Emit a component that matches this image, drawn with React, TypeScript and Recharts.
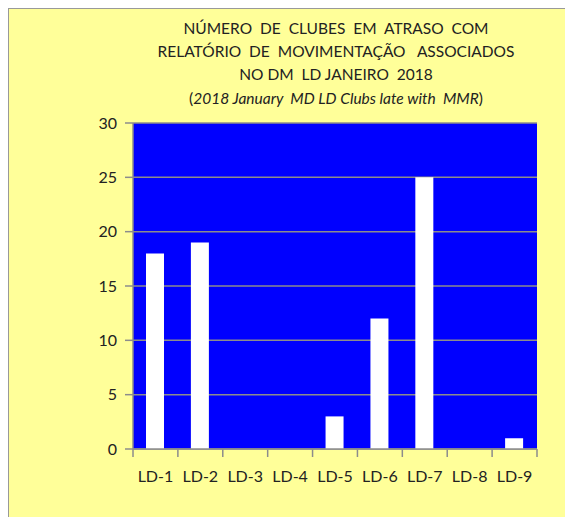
import { BarChart, Bar, XAxis, YAxis, CartesianGrid } from "recharts";

const districts = ["LD-1", "LD-2", "LD-3", "LD-4", "LD-5", "LD-6", "LD-7", "LD-8", "LD-9"];
const lateClubs = [18, 19, 0, 0, 3, 12, 25, 0, 1];
const yTicks = [0, 5, 10, 15, 20, 25, 30];

const data = districts.map((name, i) => ({ name, value: lateClubs[i] }));

const BG = "#FFFF99";
const PLOT = "#0000FF";
const GRID = "#8C8C8C";
const FONT = "Lato, 'Liberation Sans', sans-serif";

const PLOT_W = 404;
const BAND = PLOT_W / districts.length;

function CategoryTick(props: any) {
  const { x, y, payload, index } = props;
  const left = x - BAND / 2;
  const right = x + BAND / 2;
  return (
    <g>
      <line x1={left} y1={y - 8} x2={left} y2={y} stroke={GRID} strokeWidth={1.5} />
      {index === districts.length - 1 && (
        <line x1={right} y1={y - 8} x2={right} y2={y} stroke={GRID} strokeWidth={1.5} />
      )}
      <text x={x} y={y + 25} textAnchor="middle" fontSize={16} fill="#222" fontFamily={FONT}>
        {payload.value}
      </text>
    </g>
  );
}

export default function App() {
  return (
    <div
      style={{
        position: "relative",
        width: 564,
        height: 509,
        background: BG,
        borderTop: "1px solid #999",
        borderLeft: "1px solid #999",
        fontFamily: FONT,
        color: "#222",
        overflow: "hidden",
      }}
    >
      <div
        style={{
          position: "absolute",
          left: 27,
          top: 8,
          width: 600,
          textAlign: "center",
          fontSize: 15.5,
          lineHeight: "23px",
        }}
      >
        <div>NÚMERO&nbsp; DE&nbsp; CLUBES&nbsp; EM&nbsp; ATRASO&nbsp; COM</div>
        <div>RELATÓRIO&nbsp; DE&nbsp; MOVIMENTAÇÃO&nbsp;&nbsp; ASSOCIADOS</div>
        <div>NO DM&nbsp; LD JANEIRO&nbsp; 2018</div>
        <div style={{ marginTop: 1 }}>
          (<i>2018 January&nbsp; MD LD Clubs late with&nbsp; MMR</i>)
        </div>
      </div>
      <BarChart
        width={564}
        height={508}
        data={data}
        margin={{ top: 114, right: 36, bottom: 38, left: 0 }}
        barSize={18}
      >
        <CartesianGrid vertical={false} stroke={GRID} strokeWidth={1.5} fill={PLOT} fillOpacity={1} />
        <XAxis
          dataKey="name"
          axisLine={{ stroke: GRID, strokeWidth: 1.5 }}
          tickLine={false}
          tick={<CategoryTick />}
          interval={0}
          height={30}
        />
        <YAxis
          domain={[0, 30]}
          ticks={yTicks}
          width={124}
          axisLine={{ stroke: GRID, strokeWidth: 1.5 }}
          tickLine={{ stroke: GRID, strokeWidth: 1.5 }}
          tickSize={8}
          tickMargin={8}
          tick={{ fontSize: 16, fill: "#222", fontFamily: FONT }}
        />
        <Bar dataKey="value" fill="#FFFFFF" isAnimationActive={false} />
      </BarChart>
    </div>
  );
}
